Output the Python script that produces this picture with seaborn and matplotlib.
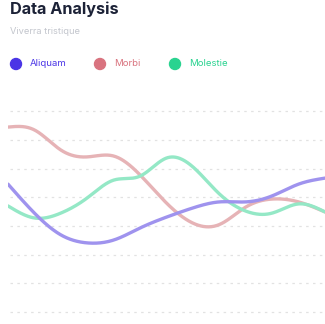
import numpy as np
import pandas as pd
import matplotlib
matplotlib.use("Agg")
import matplotlib.pyplot as plt
import seaborn as sns

series_names = ["Aliquam", "Morbi", "Molestie"]
aliquam = [44.6, 34.5, 26.9, 24.1, 25.1, 29.3, 33.1, 36.3, 38.4, 38.4, 40.5, 44.6, 46.7]
morbi = [64.5, 63.5, 56.5, 54.1, 54.4, 47.8, 38.0, 31.0, 30.5, 36.6, 39.4, 38.4, 34.9]
molestie = [37.0, 32.8, 34.5, 39.8, 46.0, 47.4, 53.7, 50.6, 41.2, 35.2, 34.5, 37.7, 34.9]
dot_colors = ["#4a35e6", "#d9737f", "#2ad390"]
line_colors = ["#9f93ee", "#e6b3b6", "#94e8c6"]


def natural_spline(y, n=40):
    y = np.asarray(y, float)
    k = len(y)
    x = np.arange(k, dtype=float)
    A = np.zeros((k, k))
    b = np.zeros(k)
    A[0, 0] = A[-1, -1] = 1.0
    for i in range(1, k - 1):
        A[i, i - 1] = 1.0
        A[i, i] = 4.0
        A[i, i + 1] = 1.0
        b[i] = 6.0 * (y[i + 1] - 2 * y[i] + y[i - 1])
    M = np.linalg.solve(A, b)
    xs, ys = [], []
    for i in range(k - 1):
        t = np.linspace(0, 1, n, endpoint=False)
        seg = ((1 - t) * y[i] + t * y[i + 1]
               + ((1 - t) ** 3 - (1 - t)) * M[i] / 6.0
               + (t ** 3 - t) * M[i + 1] / 6.0)
        xs.append(x[i] + t)
        ys.append(seg)
    xs.append([x[-1]])
    ys.append([y[-1]])
    return np.concatenate(xs), np.concatenate(ys)


sns.set_style("white")
plt.rcParams["font.family"] = ["Inter", "DejaVu Sans"]

fig = plt.figure(figsize=(3.25, 3.24), dpi=100)
W, H = 325, 324
ax_left, ax_right = 8, 325
ax_top, ax_bot = 100, 316
ax = fig.add_axes([ax_left / W, 1 - ax_bot / H, (ax_right - ax_left) / W, (ax_bot - ax_top) / H])

frames = []
for name, vals in zip(series_names, [aliquam, morbi, molestie]):
    xs, ys = natural_spline(vals)
    frames.append(pd.DataFrame({"x": xs, "y": ys, "series": name}))
df = pd.concat(frames)

# gridlines
for v in range(0, 80, 10):
    ax.plot([0.08, 11.92], [v, v], color="#e2e2e2", lw=0.9, ls=(0, (2, 3.5)), zorder=0)

order = ["Morbi", "Molestie", "Aliquam"]
for name in order:
    i = series_names.index(name)
    sub = df[df.series == name]
    sns.lineplot(data=sub, x="x", y="y", ax=ax, color=line_colors[i], lw=2.4,
                 legend=False, sort=False)

ax.set_xlim(0, len(aliquam) - 1)
ax.set_ylim((312 - ax_bot) / 2.867, (312 - ax_top) / 2.867)
ax.axis("off")

fig.text(10 / W, 1 - 9.5 / H, "Data Analysis", fontsize=11.7, fontweight="bold",
         color="#1c2237", va="center", ha="left")
fig.text(10 / W, 1 - 32 / H, "Viverra tristique", fontsize=6.7, color="#c3c6cd",
         va="center", ha="left")

leg_circ_x = [16, 100, 175]
leg_text_x = [30, 114, 189]
for i, name in enumerate(series_names):
    fig.patches.append(matplotlib.patches.Ellipse((leg_circ_x[i] / W, 1 - 64 / H), 11 / W, 11 / H,
                                                  transform=fig.transFigure, color=dot_colors[i]))
    fig.text(leg_text_x[i] / W, 1 - 64 / H, name, fontsize=6.9, color=dot_colors[i],
             va="center", ha="left")

fig.savefig("out.png", dpi=100)
